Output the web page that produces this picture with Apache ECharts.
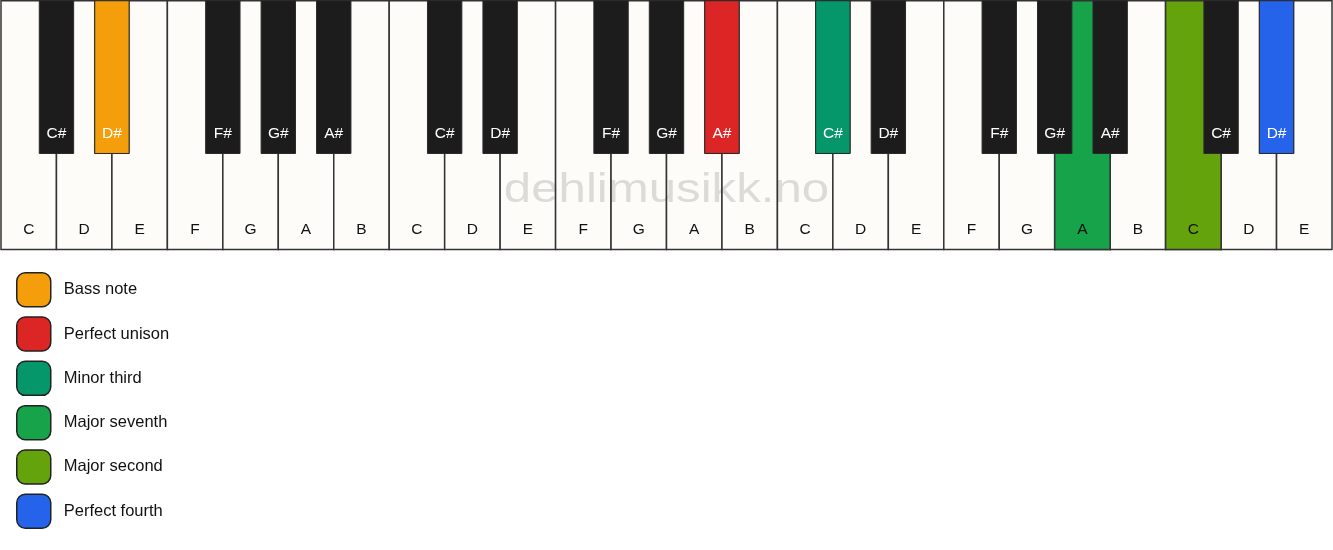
<!DOCTYPE html>
<html>
<head>
<meta charset="utf-8">
<script src="https://cdn.jsdelivr.net/npm/echarts@6/dist/echarts.min.js"></script>
<style>
  html, body { margin: 0; padding: 0; background: #fff; }
  #chart { width: 1333px; height: 550px; }
</style>
</head>
<body>
<div id="chart"></div>
<script>
// keyboard data
var whiteNotes = ['C', 'D', 'E', 'F', 'G', 'A', 'B', 'C', 'D', 'E', 'F', 'G', 'A', 'B',
                  'C', 'D', 'E', 'F', 'G', 'A', 'B', 'C', 'D', 'E'];
var blackNotes = ['C#', 'D#', 'F#', 'G#', 'A#', 'C#', 'D#', 'F#', 'G#', 'A#',
                  'C#', 'D#', 'F#', 'G#', 'A#', 'C#', 'D#'];
// black key centres, counted in white keys from the left edge
var blackAt = [1, 2, 4, 5, 6, 8, 9, 11, 12, 13, 15, 16, 18, 19, 20, 22, 23];

// marked notes (legend)
var intervalNames = ['Bass note', 'Perfect unison', 'Minor third', 'Major seventh', 'Major second', 'Perfect fourth'];
var markedKind = ['black', 'black', 'black', 'white', 'white', 'black'];
var markedIndex = [1, 9, 10, 19, 21, 16]; // index into whiteNotes / blackNotes

var palette = ['#f59e0b', '#dc2626', '#059669', '#16a34a', '#65a30d', '#2563eb'];

var WHITE_FILL = '#fdfcf8';
var BLACK_FILL = '#1c1c1c';
var BLACK_W = 0.62;      // black key width in white-key units
var BLACK_BOTTOM = 38.6; // black key length, % of the white key from the bottom
var FONT = '"Liberation Sans", Arial, Helvetica, sans-serif';

function keyShape(kind, x, api) {
    var p0, p1;
    if (kind === 'white') {
        p0 = api.coord([x, 100]);
        p1 = api.coord([x + 1, 0]);
    } else {
        p0 = api.coord([x - BLACK_W / 2, 100]);
        p1 = api.coord([x + BLACK_W / 2, BLACK_BOTTOM]);
    }
    return { x: p0[0], y: p0[1], width: p1[0] - p0[0], height: p1[1] - p0[1] };
}

function drawKey(kind, x, label, fill, api) {
    var r = keyShape(kind, x, api);
    return {
        type: 'group',
        children: [{
            type: 'rect',
            shape: r,
            style: { fill: fill, stroke: kind === 'white' ? '#333' : '#2a2a2a', lineWidth: kind === 'white' ? 1.5 : 1 }
        }, {
            type: 'text',
            x: r.x + r.width / 2,
            y: r.y + r.height - 19.5,
            style: {
                text: label,
                fill: kind === 'white' ? '#111' : '#fff',
                font: '15.5px ' + FONT,
                align: 'center',
                verticalAlign: 'middle'
            }
        }]
    };
}

var series = [{
    name: 'white',
    type: 'custom',
    z: 1,
    data: whiteNotes.map(function (n, i) { return [i]; }),
    renderItem: function (params, api) {
        return drawKey('white', api.value(0), whiteNotes[params.dataIndex], WHITE_FILL, api);
    }
}, {
    name: 'black',
    type: 'custom',
    z: 3,
    data: blackAt.map(function (x) { return [x]; }),
    renderItem: function (params, api) {
        return drawKey('black', api.value(0), blackNotes[params.dataIndex], BLACK_FILL, api);
    }
}];

intervalNames.forEach(function (name, k) {
    var kind = markedKind[k];
    var idx = markedIndex[k];
    var x = kind === 'white' ? idx : blackAt[idx];
    var label = kind === 'white' ? whiteNotes[idx] : blackNotes[idx];
    series.push({
        name: name,
        type: 'custom',
        z: kind === 'white' ? 2 : 4,
        itemStyle: { color: palette[k] },
        data: [[x]],
        renderItem: function (params, api) {
            return drawKey(kind, api.value(0), label, palette[k], api);
        }
    });
});

var myChart = echarts.init(document.getElementById('chart'));
var option = {
    animation: false,
    backgroundColor: '#fff',
    grid: { left: 1, right: 1, top: 0.75, height: 248.75 },
    xAxis: { type: 'value', min: 0, max: 24, show: false },
    yAxis: { type: 'value', min: 0, max: 100, show: false },
    legend: {
        data: intervalNames,
        orient: 'vertical',
        left: 16,
        top: 272,
        padding: 0,
        itemWidth: 34,
        itemHeight: 34,
        itemGap: 8.8,
        icon: 'roundRect',
        selectedMode: false,
        itemStyle: { borderColor: '#222', borderWidth: 1.5 },
        textStyle: { fontSize: 16.5, color: '#111', fontFamily: FONT, padding: [0, 0, 0, 8] }
    },
    graphic: [{
        type: 'text',
        x: 666.5,
        y: 190.5,
        scaleX: 1.2,
        z: 100,
        style: {
            text: 'dehlimusikk.no',
            font: '41px ' + FONT,
            fill: 'rgba(60,60,60,0.17)',
            align: 'center',
            verticalAlign: 'middle'
        }
    }],
    series: series
};
myChart.setOption(option);
</script>
</body>
</html>
